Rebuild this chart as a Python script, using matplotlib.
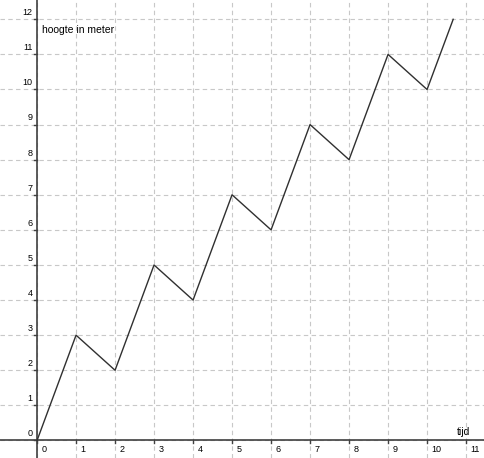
import matplotlib
matplotlib.use('Agg')
import matplotlib.pyplot as plt

# tijd (x) and hoogte (y) of the zigzag
tijd = [0, 1, 2, 3, 4, 5, 6, 7, 8, 9, 10, 10.67]
hoogte = [0, 3, 2, 5, 4, 7, 6, 9, 8, 11, 10, 12]
xticks = list(range(0, 12))
yticks = list(range(0, 13))

plt.rcParams['font.family'] = ['Liberation Sans', 'DejaVu Sans']

fig = plt.figure(figsize=(4.84, 4.58), dpi=100)
ax = fig.add_axes([0, 0, 1, 1])
ax.set_xlim(-0.95, 11.46)
ax.set_ylim(-0.5, 12.55)

# dashed grid
for x in xticks:
    ax.axvline(x, color='#c8c8c8', lw=0.8, ls=(0, (4, 3)), zorder=0)
for y in yticks:
    ax.axhline(y, color='#c8c8c8', lw=0.8, ls=(0, (4, 3)), zorder=0)

# axes through origin
ax.axhline(0, color='#404040', lw=1.2, zorder=1)
ax.axvline(0, color='#404040', lw=1.2, zorder=1)
for s in ax.spines.values():
    s.set_visible(False)
ax.set_xticks([])
ax.set_yticks([])

# small ticks + labels
for x in xticks:
    ax.plot([x, x], [0, -0.08], color='#404040', lw=1, zorder=1)
    ax.text(x + 0.12, -0.12, str(x), fontsize=6.5, ha='left', va='top')
for y in yticks:
    ax.plot([0, -0.08], [y, y], color='#404040', lw=1, zorder=1)
    ax.text(-0.12, y + 0.06, str(y), fontsize=6.5, ha='right', va='bottom')

ax.plot(tijd, hoogte, color='#303030', lw=1.0, zorder=2)

ax.text(0.13, 11.7, 'hoogte in meter', fontsize=7.5, ha='left', va='center')
ax.text(10.93, 0.25, 'tijd', fontsize=7.5, ha='center', va='center')

fig.savefig('out.png', dpi=100)
